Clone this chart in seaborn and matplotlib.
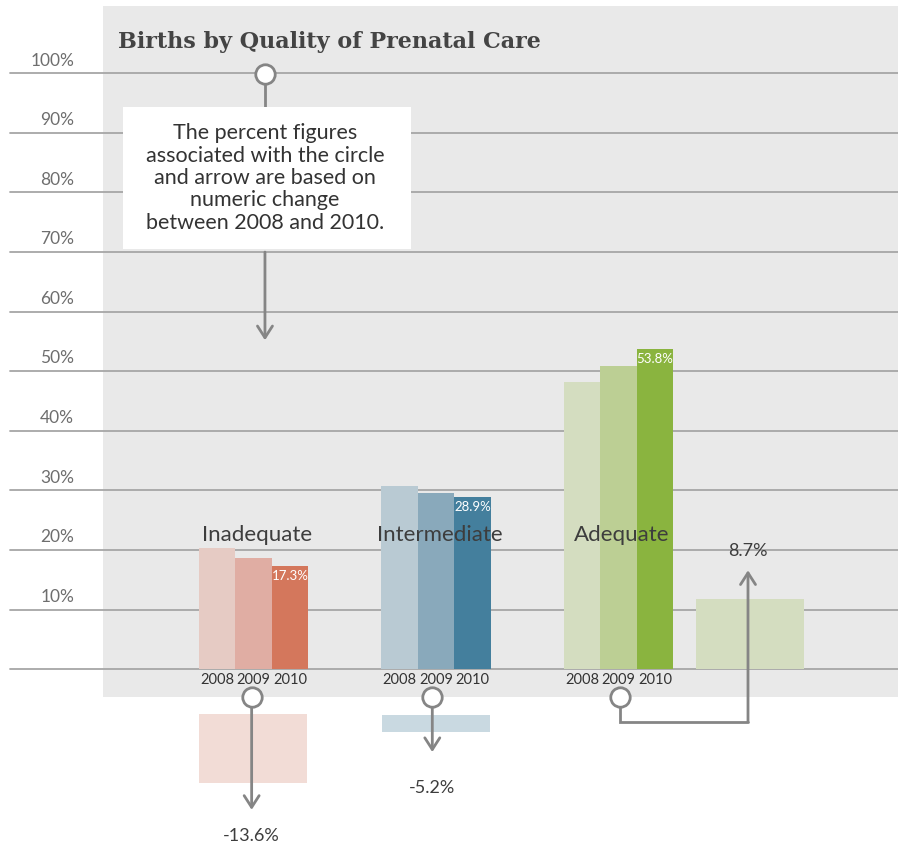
import matplotlib
matplotlib.use("Agg")
import matplotlib.pyplot as plt
import seaborn as sns
import pandas as pd
from matplotlib.patches import Rectangle

# Data
groups = ["Inadequate", "Intermediate", "Adequate"]
years = ["2008", "2009", "2010"]
inadequate = [20.3, 18.7, 17.3]
intermediate = [30.8, 29.6, 28.9]
adequate = [48.2, 50.9, 53.8]
changes = ["-13.6%", "-5.2%", "8.7%"]
# change boxes drawn as floating bars (bottom, top)
change_boxes = [(-19.1, -7.5), (-10.5, -7.7), (0.0, 11.8)]
y_ticks = [10, 20, 30, 40, 50, 60, 70, 80, 90, 100]

colors = {
    "Inadequate": ["#e6cbc4", "#e0ada3", "#d4775c"],
    "Intermediate": ["#b9cad3", "#89a9bb", "#447f9d"],
    "Adequate": ["#d4ddc0", "#bccf94", "#8ab43f"],
}
box_colors = ["#f2dcd6", "#c9d9e1", "#d4ddc0"]
group_pos = [0, 5, 10]
box_pos = [0, 5, 13.6]

rows = []
for g, gp, vals in zip(groups, group_pos, [inadequate, intermediate, adequate]):
    for i, (yr, v) in enumerate(zip(years, vals)):
        rows.append({"pos": gp + i - 1, "value": v, "key": f"{g} {yr}",
                     "group": g, "year": yr})
df = pd.DataFrame(rows)
palette = {f"{g} {yr}": colors[g][i] for g in groups for i, yr in enumerate(years)}

sns.set_theme(style="white")
plt.rcParams["font.family"] = ["Lato", "DejaVu Sans"]

fig = plt.figure(figsize=(8.98, 8.48), dpi=100)
ax = fig.add_axes([0, 0, 1, 1])
ax.set_xlim(-6.945, 17.66)
ax.set_ylim(-30, 112.3)
ax.axis("off")

# gray panel
ax.add_patch(Rectangle((103 / 898, 1 - 697 / 848), 1 - 103 / 898, (697 - 6) / 848,
                       transform=ax.transAxes, color="#e9e9e9", lw=0, zorder=0))

# gridlines
for t in [0] + y_ticks:
    ax.axhline(t, xmin=10 / 898, xmax=1, color="#a6a6a6", lw=1.3, zorder=1)
    if t > 0:
        ax.text(74 / 898 * 24.605 - 6.945, t + 0.8, f"{t}%", ha="right", va="bottom",
                fontsize=12.5, color="#6e6e6e", zorder=2)

sns.barplot(data=df, x="pos", y="value", hue="key", palette=palette,
            native_scale=True, dodge=False, width=1, legend=False,
            saturation=1, linewidth=0, ax=ax, zorder=3)
ax.set_xlim(-6.945, 17.66)
ax.set_ylim(-30, 112.3)
ax.axis("off")

# change boxes
for bp, (lo, hi), c in zip(box_pos, change_boxes, box_colors):
    ax.bar(bp, hi - lo, bottom=lo, width=2.96, color=c, lw=0, zorder=2)

# group labels, years, value labels
for g, gp, vals in zip(groups, group_pos, [inadequate, intermediate, adequate]):
    ax.text(gp + 0.1, 22.5, g, ha="center", va="center", fontsize=16,
            color="#3d3d3d", zorder=5)
    for i, yr in enumerate(years):
        ax.text(gp + i - 1, -1.8, yr, ha="center", va="center", fontsize=10.5,
                color="#333333", zorder=5)
    ax.text(gp + 1, vals[2] - 0.7, f"{vals[2]}%", ha="center", va="top",
            fontsize=9.5, color="white", zorder=5)

line_c = "#858585"


def arrow(x0, y0, x1, y1):
    ax.annotate("", xy=(x1, y1), xytext=(x0, y0),
                arrowprops=dict(arrowstyle="->,head_length=0.7,head_width=0.45",
                                color=line_c, lw=2, shrinkA=0, shrinkB=0),
                zorder=6)


# Inadequate change
arrow(-0.05, -4.65, -0.05, -23.6)
ax.text(-0.05, -28.0, changes[0], ha="center", va="center", fontsize=13,
        color="#3d3d3d")
# Intermediate change
arrow(4.9, -4.65, 4.9, -13.9)
ax.text(4.9, -20.0, changes[1], ha="center", va="center", fontsize=13,
        color="#3d3d3d")
# Adequate change (elbow connector)
ax.plot([10.05, 10.05, 13.55], [-4.65, -8.8, -8.8], color=line_c, lw=2,
        zorder=6, solid_joinstyle="miter")
arrow(13.55, -8.8, 13.55, 16.6)
ax.text(13.55, 19.9, changes[2], ha="center", va="center", fontsize=13,
        color="#3d3d3d")
for cx in [-0.05, 4.9, 10.05]:
    ax.plot(cx, -4.65, "o", ms=14, mfc="white", mec=line_c, mew=2, zorder=7)

# note box
ax.plot([0.315, 0.315], [99.9, 88], color=line_c, lw=2, zorder=6)
arrow(0.315, 70, 0.315, 55.2)
ax.plot(0.315, 99.9, "o", ms=14, mfc="white", mec=line_c, mew=2, zorder=7)
ax.add_patch(Rectangle((123 / 898, 1 - 249 / 848), (411 - 123) / 898, (249 - 107) / 848,
                       transform=ax.transAxes, color="white", lw=0, zorder=8))
ax.text(0.315, (669.3 - 178) / 5.96, "The percent figures\nassociated with the circle\n"
        "and arrow are based on\nnumeric change\nbetween 2008 and 2010.",
        ha="center", va="center", fontsize=15.5, color="#333333", linespacing=1.15,
        zorder=9)

# title
ax.text(118 / 898, 1 - 42 / 848, "Births by Quality of Prenatal Care",
        transform=ax.transAxes, ha="left", va="center", fontsize=16,
        fontweight="bold", family="DejaVu Serif", color="#444444", zorder=9)

fig.savefig("out.png", dpi=100)
